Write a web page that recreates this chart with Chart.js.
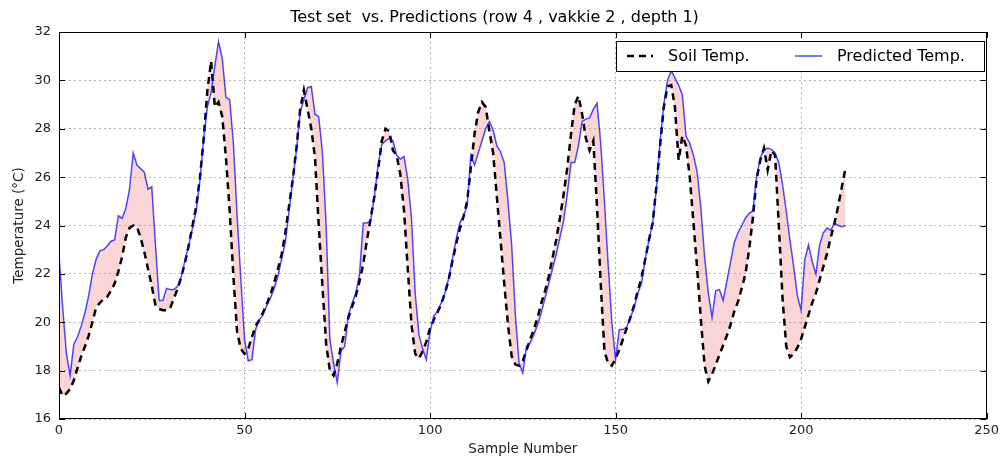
<!DOCTYPE html>
<html>
<head>
<meta charset="utf-8">
<title>Test set vs. Predictions</title>
<script src="https://cdn.jsdelivr.net/npm/chart.js@4.4.1/dist/chart.umd.min.js"></script>
<style>
  html, body { margin: 0; padding: 0; background: #fff; }
  #wrap { width: 1003px; height: 461px; }
</style>
</head>
<body>
<div id="wrap"><canvas id="tempChart" width="1003" height="461"></canvas></div>
<script>
// measured soil temperature, one value per sample
const soilTemp = [
  17.3, 16.95, 17.05, 17.25, 17.6, 18.1, 18.6, 19.0, 19.45, 20.0,
  20.6, 20.8, 20.95, 21.05, 21.3, 21.6, 22.1, 22.7, 23.5, 23.9,
  24.0, 23.95, 23.5, 22.9, 22.2, 21.5, 20.7, 20.55, 20.5, 20.5,
  20.6, 21.0, 21.4, 21.9, 22.5, 23.2, 24.0, 24.8, 26.0, 27.6,
  29.6, 30.8, 28.9, 29.1, 28.5, 26.8, 24.6, 21.9, 19.6, 18.9,
  18.7, 18.9, 19.4, 19.85, 20.1, 20.4, 20.75, 21.15, 21.65, 22.2,
  22.8, 23.7, 24.8, 25.9, 27.2, 28.8, 29.6, 28.8, 28.0, 26.8,
  24.0, 21.5, 19.1, 18.0, 17.8, 18.3, 19.0, 19.6, 20.2, 20.65,
  21.1, 21.7, 22.4, 23.4, 24.3, 25.2, 26.3, 27.5, 28.0, 27.9,
  27.1, 26.9, 26.1, 24.6, 22.2, 19.9, 18.7, 18.5, 18.8, 19.2,
  19.75, 20.1, 20.4, 20.75, 21.2, 21.75, 22.5, 23.2, 23.85, 24.35,
  25.0, 26.4, 27.8, 28.7, 29.1, 28.9, 27.9, 27.0, 25.2, 23.4,
  21.6, 19.9, 18.6, 18.25, 18.2, 18.4, 18.85, 19.3, 19.7, 20.2,
  20.8, 21.3, 21.9, 22.65, 23.4, 24.3, 25.3, 26.4, 27.8, 29.0,
  29.35, 28.6, 27.6, 27.1, 27.5, 24.8, 21.6, 18.8, 18.3, 18.2,
  18.5, 18.85, 19.3, 19.75, 20.2, 20.7, 21.3, 21.85, 22.6, 23.4,
  24.1, 25.6, 27.3, 28.9, 29.75, 29.8, 28.9, 26.7, 27.7, 27.3,
  26.0, 24.1, 22.2, 20.1, 18.2, 17.55, 17.85, 18.25, 18.65, 19.05,
  19.45, 19.9, 20.45, 20.85, 21.4, 22.0, 23.0, 24.3, 25.9, 26.7,
  27.2, 26.3, 27.1, 26.9, 24.0, 21.0, 19.0, 18.55, 18.7, 18.95,
  19.3, 19.8, 20.3, 20.8, 21.2, 21.75, 22.3, 22.85, 23.5, 24.1,
  24.8, 25.6, 26.4
];

// model output for the same samples
const predictedTemp = [
  22.8, 20.6, 18.7, 17.8, 19.1, 19.4, 19.85, 20.4, 21.1, 22.0,
  22.6, 22.95, 23.0, 23.15, 23.35, 23.4, 24.4, 24.3, 24.7, 25.5,
  27.0, 26.5, 26.35, 26.2, 25.5, 25.6, 23.2, 20.9, 20.9, 21.4,
  21.35, 21.35, 21.5, 21.9, 22.6, 23.2, 23.9, 24.65, 25.9, 27.6,
  28.9, 29.5, 30.6, 31.6, 30.9, 29.3, 29.2, 27.4, 24.4, 21.8,
  19.3, 18.4, 18.45, 19.7, 20.1, 20.3, 20.7, 21.0, 21.4, 21.9,
  22.6, 23.3, 24.6, 25.9, 27.1, 28.7, 29.2, 29.7, 29.75, 28.6,
  28.5, 27.0, 24.0, 19.3, 18.3, 17.5, 18.8, 19.0, 20.3, 20.8,
  21.2, 22.0, 24.1, 24.1, 24.2, 25.2, 26.5, 27.35, 27.5, 27.6,
  27.5, 26.9, 26.75, 26.85, 25.9, 24.3, 21.2, 19.5, 18.9, 18.45,
  19.6, 20.25, 20.45, 20.8, 21.2, 21.8, 22.6, 23.4, 24.1, 24.4,
  24.8, 26.9, 26.5, 27.0, 27.5, 28.0, 28.3, 27.95, 27.3, 27.05,
  26.6, 25.0, 23.2, 20.3, 18.3, 17.9, 19.0, 19.15, 19.5, 19.9,
  20.4, 21.0, 21.6, 22.2, 22.8, 23.5, 24.2, 25.3, 26.6, 26.6,
  27.3, 28.3, 28.4, 28.45, 28.8, 29.05, 27.4, 25.0, 22.4, 20.0,
  18.45, 19.7, 19.7, 19.8, 20.2, 20.6, 21.2, 21.6, 22.6, 23.4,
  24.1, 25.5, 27.5, 29.0, 30.0, 30.4, 30.1, 29.8, 29.4, 27.7,
  27.4, 26.9, 26.2, 24.7, 22.7, 21.2, 20.2, 21.3, 21.35, 20.9,
  21.7, 22.5, 23.3, 23.7, 24.0, 24.3, 24.5, 24.6, 26.0, 26.8,
  27.1, 27.2, 27.15, 27.0, 26.6, 25.7, 24.6, 23.4, 22.3, 21.1,
  20.5, 22.6, 23.2, 22.5, 22.0, 23.2, 23.7, 23.9, 23.8, 24.1,
  24.0, 23.95, 24.0
];

const sampleNumbers = soilTemp.map((_, i) => i);
const seriesNames = ['Soil Temp.', 'Predicted Temp.'];
const xTicks = [0, 50, 100, 150, 200, 250];
const yTicks = [16, 18, 20, 22, 24, 26, 28, 30, 32];
const chartTitle = 'Test set  vs. Predictions (row 4 , vakkie 2 , depth 1)';

const FONT = "'DejaVu Sans', sans-serif";
const SOIL_COLOR = '#000';
const PRED_COLOR = 'rgba(0,0,255,0.7)';
const GRID_COLOR = 'rgba(0,0,0,0.3)';

// box frame, inward ticks and the legend, drawn over the plot
const frameAndLegend = {
  id: 'frameAndLegend',
  afterDraw(chart) {
    const { ctx, chartArea: a, scales: { x, y } } = chart;
    ctx.save();
    ctx.strokeStyle = '#000';
    ctx.lineWidth = 1;
    ctx.setLineDash([]);
    ctx.beginPath();
    xTicks.forEach(v => {
      const px = Math.round(x.getPixelForValue(v)) + 0.5;
      ctx.moveTo(px, a.bottom); ctx.lineTo(px, a.bottom - 6);
      ctx.moveTo(px, a.top); ctx.lineTo(px, a.top + 6);
    });
    yTicks.forEach(v => {
      const py = Math.round(y.getPixelForValue(v)) + 0.5;
      ctx.moveTo(a.left, py); ctx.lineTo(a.left + 6, py);
      ctx.moveTo(a.right, py); ctx.lineTo(a.right - 6, py);
    });
    ctx.stroke();
    ctx.strokeRect(Math.round(a.left) + 0.5, Math.round(a.top) + 0.5,
                   Math.round(a.right - a.left) - 1, Math.round(a.bottom - a.top) - 1);

    // legend
    const box = { left: 616, top: 41, right: 984, bottom: 71 };
    const midY = (box.top + box.bottom) / 2;
    ctx.fillStyle = '#fff';
    ctx.fillRect(box.left, box.top, box.right - box.left, box.bottom - box.top);
    ctx.strokeRect(box.left + 0.5, box.top + 0.5, box.right - box.left, box.bottom - box.top);

    const ds = chart.data.datasets;
    ctx.font = '16px ' + FONT;
    ctx.textBaseline = 'middle';
    ctx.fillStyle = '#000';

    ctx.strokeStyle = SOIL_COLOR;
    ctx.lineWidth = 2.5;
    ctx.setLineDash([7, 5]);
    ctx.beginPath();
    ctx.moveTo(627, midY); ctx.lineTo(653, midY);
    ctx.stroke();
    ctx.fillText(ds[0].label, 668, midY + 1);

    ctx.strokeStyle = PRED_COLOR;
    ctx.lineWidth = 1.5;
    ctx.setLineDash([]);
    ctx.beginPath();
    ctx.moveTo(795, midY); ctx.lineTo(822, midY);
    ctx.stroke();
    ctx.fillText(ds[1].label, 837, midY + 1);
    ctx.restore();
  }
};

const tickFont = { family: FONT, size: 13 };
const axisTitleFont = { family: FONT, size: 13.5 };

new Chart(document.getElementById('tempChart'), {
  type: 'line',
  data: {
    datasets: [
      {
        label: seriesNames[0],
        data: soilTemp.map((v, i) => ({ x: sampleNumbers[i], y: v })),
        borderColor: SOIL_COLOR,
        borderWidth: 2.5,
        borderDash: [7, 5],
        pointRadius: 0,
        fill: false,
        order: 1
      },
      {
        label: seriesNames[1],
        data: predictedTemp.map((v, i) => ({ x: sampleNumbers[i], y: v })),
        borderColor: PRED_COLOR,
        borderWidth: 1.5,
        pointRadius: 0,
        fill: '-1',
        backgroundColor: 'rgba(240,128,128,0.33)',
        order: 0
      }
    ]
  },
  options: {
    responsive: false,
    animation: false,
    events: [],
    layout: { padding: { top: 0, right: 14, left: 0, bottom: 0 } },
    elements: { line: { tension: 0 } },
    plugins: {
      legend: { display: false },
      tooltip: { enabled: false },
      filler: { drawTime: 'beforeDatasetsDraw' },
      title: {
        display: true,
        text: chartTitle,
        color: '#000',
        font: { family: FONT, size: 16, weight: 'normal' },
        padding: { top: 8, bottom: 4.8 }
      }
    },
    scales: {
      x: {
        type: 'linear',
        min: 0,
        max: 250,
        ticks: { stepSize: 50, padding: 4, color: '#222', font: tickFont },
        grid: { color: GRID_COLOR, lineWidth: 1, drawTicks: false },
        border: { display: false, dash: [2, 3] },
        title: { display: true, text: 'Sample Number', color: '#222', font: axisTitleFont,
                 padding: { top: 0, bottom: 3 } },
        afterFit(scale) { scale.height = 42; }
      },
      y: {
        min: 16,
        max: 32,
        ticks: { stepSize: 2, padding: 8, color: '#222', font: tickFont },
        grid: { color: GRID_COLOR, lineWidth: 1, drawTicks: false },
        border: { display: false, dash: [2, 3] },
        title: { display: true, text: 'Temperature (°C)', color: '#222', font: axisTitleFont,
                 padding: { top: 11, bottom: 0 } },
        afterFit(scale) { scale.width = 59; }
      }
    }
  },
  plugins: [frameAndLegend]
});
</script>
</body>
</html>
